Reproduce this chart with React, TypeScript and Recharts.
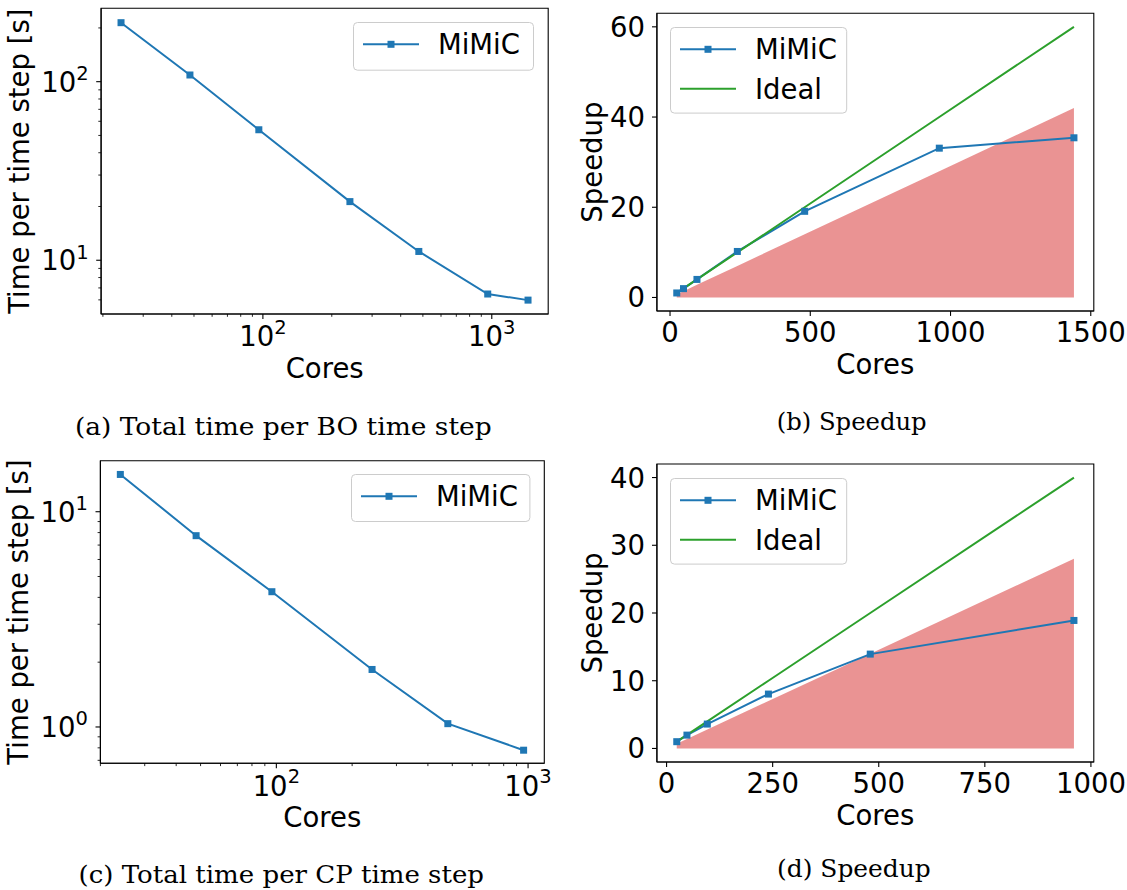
import React from 'react';
import { ComposedChart, Line, Area, XAxis, YAxis, Legend, ReferenceArea } from 'recharts';

// ---------- data ----------
const coresBO = [24, 48, 96, 240, 480, 960, 1440];
const timeBO = [214, 109, 53.8, 21.3, 11.2, 6.47, 5.98];
const speedupBO = [1, 1.96, 4.0, 10.2, 19.1, 33.1, 35.4];
const idealBO = [1, 2, 4, 10, 20, 40, 60];
const boundBO = [0.7, 1.4, 2.8, 7, 14, 28, 42];

const coresCP = [24, 48, 96, 240, 480, 960];
const timeCP = [14.9, 7.74, 4.25, 1.85, 1.036, 0.78];
const speedupCP = [1, 1.97, 3.6, 8.03, 13.93, 18.9];
const idealCP = [1, 2, 4, 10, 20, 40];
const boundCP = [0.7, 1.4, 2.8, 7, 14, 28];

const logXTicks = [20, 30, 40, 50, 60, 70, 80, 90, 100, 200, 300, 400, 500, 600, 700, 800, 900, 1000];
const logYTicksBO = [6, 7, 8, 9, 10, 20, 30, 40, 50, 60, 70, 80, 90, 100, 200];
const logYTicksCP = [0.7, 0.8, 0.9, 1, 2, 3, 4, 5, 6, 7, 8, 9, 10];
const linXTicksBO = [0, 500, 1000, 1500];
const linYTicksBO = [0, 20, 40, 60];
const linXTicksCP = [0, 250, 500, 750, 1000];
const linYTicksCP = [0, 10, 20, 30, 40];

const captions = [
  '(a) Total time per BO time step',
  '(b) Speedup',
  '(c) Total time per CP time step',
  '(d) Speedup',
];

// ---------- style ----------
const FONT = '"DejaVu Sans", sans-serif';
const SERIF = '"DejaVu Serif", serif';
const FS = 27.5;
const BLUE = '#1f77b4';
const GREEN = '#2ca02c';
const RED = '#d62728';
const YW = 80;
const XH = 70;

const isMajor = (v: number) => {
  const l = Math.log10(v);
  return Math.abs(l - Math.round(l)) < 1e-6;
};

function LogXTick(p: any) {
  const { x, y, payload } = p;
  const v = payload.value;
  const major = isMajor(v);
  const exp = Math.round(Math.log10(v));
  return (
    <g>
      <line x1={x} x2={x} y1={y} y2={y + (major ? 4.9 : 2.8)} stroke="#000" strokeWidth={major ? 1.1 : 0.85} />
      {major && (
        <text x={x} y={y + 32.3} textAnchor="middle" fontFamily={FONT} fontSize={FS} fill="#000">
          10<tspan dy={-12.5} fontSize={19.5}>{exp}</tspan>
        </text>
      )}
    </g>
  );
}

function LogYTick(p: any) {
  const { x, y, payload } = p;
  const v = payload.value;
  const major = isMajor(v);
  const exp = Math.round(Math.log10(v));
  return (
    <g>
      <line x1={x} x2={x - (major ? 4.9 : 2.8)} y1={y} y2={y} stroke="#000" strokeWidth={major ? 1.1 : 0.85} />
      {major && (
        <text x={x - 12.5} y={y + 10} textAnchor="end" fontFamily={FONT} fontSize={FS} fill="#000">
          10<tspan dy={-11.5} fontSize={19.5}>{exp}</tspan>
        </text>
      )}
    </g>
  );
}

function LinXTick(p: any) {
  const { x, y, payload } = p;
  return (
    <g>
      <line x1={x} x2={x} y1={y} y2={y + 4.9} stroke="#000" strokeWidth={1.1} />
      <text x={x} y={y + 31} textAnchor="middle" fontFamily={FONT} fontSize={FS} fill="#000">
        {String(payload.value)}
      </text>
    </g>
  );
}

function LinYTick(p: any) {
  const { x, y, payload } = p;
  return (
    <g>
      <line x1={x} x2={x - 4.9} y1={y} y2={y} stroke="#000" strokeWidth={1.1} />
      <text x={x - 12} y={y + 10} textAnchor="end" fontFamily={FONT} fontSize={FS} fill="#000">
        {String(payload.value)}
      </text>
    </g>
  );
}

type Row = { name: string; color: string; marker: boolean };

function LegendBox({ w, h, rows }: { w: number; h: number; rows: Row[] }) {
  return (
    <svg width={w} height={h} style={{ display: 'block', overflow: 'visible' }}>
      <rect x={0.5} y={0.5} width={w - 1} height={h - 1} rx={4} ry={4} fill="#ffffff" fillOpacity={0.8} stroke="#cccccc" strokeWidth={1} />
      {rows.map((r, i) => {
        const cy = 22.3 + i * 39.4;
        return (
          <g key={r.name}>
            <line x1={10} x2={66} y1={cy} y2={cy} stroke={r.color} strokeWidth={2} />
            {r.marker && <rect x={38 - 3.5} y={cy - 3.5} width={7} height={7} fill={r.color} />}
            <text x={85} y={cy + 10} fontFamily={FONT} fontSize={FS} fill="#000">{r.name}</text>
          </g>
        );
      })}
    </svg>
  );
}

type Cfg = {
  left: number; top: number; width: number; height: number;
  plot: { l: number; t: number; r: number; b: number };
};

function margins(c: Cfg) {
  return {
    left: c.plot.l - c.left - YW,
    top: c.plot.t - c.top,
    right: c.left + c.width - c.plot.r,
    bottom: c.top + c.height - c.plot.b - XH,
  };
}

function SquareDot(p: any) {
  const { cx, cy, index } = p;
  if (cx == null || cy == null) return <g key={`e${index}`} />;
  return <rect key={`d${index}`} x={cx - 3.5} y={cy - 3.5} width={7} height={7} fill={BLUE} />;
}

function TimePanel({ c, data, xDomain, yDomain, yTicks, legendPos }: any) {
  const m = margins(c);
  const pl = c.plot.l - c.left;
  const pr = c.plot.r - c.left;
  const pt = c.plot.t - c.top;
  const pb = c.plot.b - c.top;
  return (
    <div style={{ position: 'absolute', left: c.left, top: c.top }}>
      <ComposedChart width={c.width} height={c.height} data={data} margin={m}>
        <XAxis
          dataKey="cores" type="number" scale="log" domain={xDomain} allowDataOverflow
          ticks={logXTicks} interval={0} height={XH} tickSize={0} tickMargin={0} tickLine={false}
          axisLine={{ stroke: '#000', strokeWidth: 1.1 }} tick={(p: any) => <LogXTick {...p} />}
          label={{ content: () => (
            <text x={(pl + pr) / 2} y={pb + 64} textAnchor="middle" fontFamily={FONT} fontSize={FS} fill="#000">Cores</text>
          ) }}
        />
        <YAxis
          type="number" scale="log" domain={yDomain} allowDataOverflow ticks={yTicks} interval={0}
          width={YW} tickSize={0} tickMargin={0} tickLine={false}
          axisLine={{ stroke: '#000', strokeWidth: 1.1 }} tick={(p: any) => <LogYTick {...p} />}
          label={{ content: () => {
            const x = pl - 72;
            const cy = (pt + pb) / 2;
            return (
              <text x={x} y={cy} transform={`rotate(-90, ${x}, ${cy})`} textAnchor="middle" fontFamily={FONT} fontSize={FS} fill="#000">Time per time step [s]</text>
            );
          } }}
        />
        <Line dataKey="time" stroke={BLUE} strokeWidth={2} dot={(p: any) => <SquareDot {...p} />} activeDot={false} isAnimationActive={false} legendType="none" />
        <ReferenceArea x1={xDomain[0]} x2={xDomain[1]} y1={yDomain[0]} y2={yDomain[1]} fill="none" fillOpacity={0} stroke="#000" strokeWidth={1.1} ifOverflow="visible" />
        <Legend
          layout="vertical" align="center" verticalAlign="middle"
          wrapperStyle={{ left: legendPos.x, top: legendPos.y, width: legendPos.w, height: legendPos.h }}
          content={() => <LegendBox w={legendPos.w} h={legendPos.h} rows={[{ name: 'MiMiC', color: BLUE, marker: true }]} />}
        />
      </ComposedChart>
    </div>
  );
}

function SpeedupPanel({ c, data, xDomain, yDomain, xTicks, yTicks, legendPos }: any) {
  const m = margins(c);
  const pl = c.plot.l - c.left;
  const pr = c.plot.r - c.left;
  const pt = c.plot.t - c.top;
  const pb = c.plot.b - c.top;
  return (
    <div style={{ position: 'absolute', left: c.left, top: c.top }}>
      <ComposedChart width={c.width} height={c.height} data={data} margin={m}>
        <XAxis
          dataKey="cores" type="number" domain={xDomain} allowDataOverflow
          ticks={xTicks} interval={0} height={XH} tickSize={0} tickMargin={0} tickLine={false}
          axisLine={{ stroke: '#000', strokeWidth: 1.1 }} tick={(p: any) => <LinXTick {...p} />}
          label={{ content: () => (
            <text x={(pl + pr) / 2} y={pb + 62.5} textAnchor="middle" fontFamily={FONT} fontSize={FS} fill="#000">Cores</text>
          ) }}
        />
        <YAxis
          type="number" domain={yDomain} allowDataOverflow ticks={yTicks} interval={0}
          width={YW} tickSize={0} tickMargin={0} tickLine={false}
          axisLine={{ stroke: '#000', strokeWidth: 1.1 }} tick={(p: any) => <LinYTick {...p} />}
          label={{ content: () => {
            const x = pl - 55;
            const cy = (pt + pb) / 2;
            return (
              <text x={x} y={cy} transform={`rotate(-90, ${x}, ${cy})`} textAnchor="middle" fontFamily={FONT} fontSize={FS} fill="#000">Speedup</text>
            );
          } }}
        />
        <Area dataKey="bound" type="linear" stroke="none" fill={RED} fillOpacity={0.5} baseValue={0} isAnimationActive={false} legendType="none" activeDot={false} />
        <Line dataKey="speedup" stroke={BLUE} strokeWidth={2} dot={(p: any) => <SquareDot {...p} />} activeDot={false} isAnimationActive={false} />
        <Line dataKey="ideal" stroke={GREEN} strokeWidth={2} dot={false} activeDot={false} isAnimationActive={false} />
        <ReferenceArea x1={xDomain[0]} x2={xDomain[1]} y1={yDomain[0]} y2={yDomain[1]} fill="none" fillOpacity={0} stroke="#000" strokeWidth={1.1} ifOverflow="visible" />
        <Legend
          layout="vertical" align="center" verticalAlign="middle"
          wrapperStyle={{ left: legendPos.x, top: legendPos.y, width: legendPos.w, height: legendPos.h }}
          content={() => (
            <LegendBox w={legendPos.w} h={legendPos.h} rows={[
              { name: 'MiMiC', color: BLUE, marker: true },
              { name: 'Ideal', color: GREEN, marker: false },
            ]} />
          )}
        />
      </ComposedChart>
    </div>
  );
}

const dataTimeBO = coresBO.map((c, i) => ({ cores: c, time: timeBO[i] }));
const dataTimeCP = coresCP.map((c, i) => ({ cores: c, time: timeCP[i] }));
const dataSpBO = coresBO.map((c, i) => ({ cores: c, speedup: speedupBO[i], ideal: idealBO[i], bound: boundBO[i] }));
const dataSpCP = coresCP.map((c, i) => ({ cores: c, speedup: speedupCP[i], ideal: idealCP[i], bound: boundCP[i] }));

const cfgA: Cfg = { left: 0, top: 0, width: 560, height: 400, plot: { l: 101.1, t: 8.3, r: 548.2, b: 314 } };
const cfgB: Cfg = { left: 560, top: 0, width: 567, height: 400, plot: { l: 656.9, t: 13.3, r: 1093.8, b: 311 } };
const cfgC: Cfg = { left: 0, top: 440, width: 560, height: 450, plot: { l: 100.4, t: 460.7, r: 544.3, b: 763.3 } };
const cfgD: Cfg = { left: 560, top: 440, width: 567, height: 450, plot: { l: 656.9, t: 464, r: 1093.8, b: 762 } };

const captionPos = [
  { x: 283.3, y: 435, w: 416.7 },
  { x: 851.7, y: 430, w: 150 },
  { x: 281.3, y: 883, w: 405.4 },
  { x: 853.9, y: 877, w: 153.7 },
];

export default function App() {
  return (
    <div style={{ position: 'absolute', left: 0, top: 0, width: 1127, height: 890, background: '#ffffff', overflow: 'hidden' }}>
      <TimePanel c={cfgA} data={dataTimeBO} xDomain={[19.64, 1764]} yDomain={[5.0, 257.6]} yTicks={logYTicksBO}
        legendPos={{ x: 353, y: 22.3, w: 181, h: 48.7 }} />
      <SpeedupPanel c={cfgB} data={dataSpBO} xDomain={[-46.8, 1510.8]} yDomain={[-3, 63]} xTicks={linXTicksBO} yTicks={linYTicksBO}
        legendPos={{ x: 110.3, y: 26.7, w: 177.2, h: 86.6 }} />
      <TimePanel c={cfgC} data={dataTimeCP} xDomain={[20.0, 1160]} yDomain={[0.678, 17.26]} yTicks={logYTicksCP}
        legendPos={{ x: 351, y: 34.3, w: 179.4, h: 48 }} />
      <SpeedupPanel c={cfgD} data={dataSpCP} xDomain={[-22.8, 1006.8]} yDomain={[-2, 42]} xTicks={linXTicksCP} yTicks={linYTicksCP}
        legendPos={{ x: 110.3, y: 37.7, w: 177.2, h: 86.6 }} />
      <svg width={1127} height={890} style={{ position: 'absolute', left: 0, top: 0, pointerEvents: 'none' }}>
        {captions.map((t, i) => (
          <text key={t + i} x={captionPos[i].x} y={captionPos[i].y} textAnchor="middle" fontFamily={SERIF} fontSize={25}
            textLength={captionPos[i].w} lengthAdjust="spacingAndGlyphs" fill="#000">{t}</text>
        ))}
      </svg>
    </div>
  );
}
